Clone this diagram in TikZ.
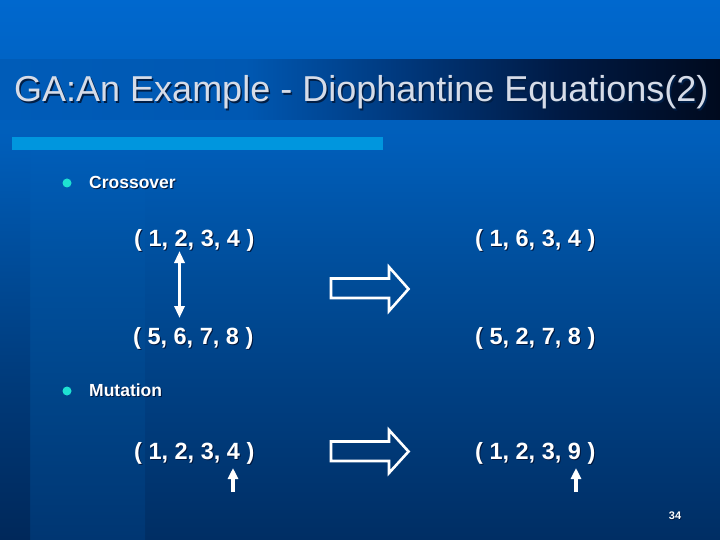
\documentclass[tikz,border=0pt]{standalone}
\usepackage{fontspec}
\setmainfont{Liberation Sans}
\usetikzlibrary{arrows.meta}
\definecolor{bgA}{RGB}{0,46,100}
\definecolor{bgB}{RGB}{0,62,128}
\definecolor{bgC}{RGB}{0,76,152}
\definecolor{bgD}{RGB}{0,94,186}
\definecolor{bgE}{RGB}{0,104,206}
\definecolor{bdA}{RGB}{0,54,114}
\definecolor{bdB}{RGB}{0,68,136}
\definecolor{bdC}{RGB}{0,79,156}
\definecolor{bkA}{RGB}{0,40,90}
\definecolor{bkB}{RGB}{0,56,118}
\definecolor{bkC}{RGB}{0,73,148}
\definecolor{tb0}{RGB}{0,92,184}
\definecolor{tb1}{RGB}{0,88,178}
\definecolor{tb2}{RGB}{0,56,124}
\definecolor{tb3}{RGB}{0,26,68}
\definecolor{tb4}{RGB}{0,10,30}
\definecolor{titlec}{RGB}{214,220,232}
\definecolor{titlesh}{RGB}{0,30,70}
\definecolor{txtsh}{RGB}{0,22,60}
\definecolor{barc}{RGB}{0,150,222}
\definecolor{dotc}{RGB}{30,225,210}
\pgfdeclareverticalshading{bgshade}{100bp}{color(0bp)=(bgA); color(25bp)=(bgA); color(38bp)=(bgB); color(49bp)=(bgC); color(62bp)=(bgD); color(75bp)=(bgE); color(100bp)=(bgE)}
\pgfdeclareverticalshading{bandshade}{100bp}{color(0bp)=(bdA); color(25bp)=(bdA); color(38bp)=(bdB); color(49bp)=(bdC); color(62bp)=(bgD); color(75bp)=(bgE); color(100bp)=(bgE)}
\pgfdeclareverticalshading{edgeshade}{100bp}{color(0bp)=(bkA); color(25bp)=(bkA); color(38bp)=(bkB); color(49bp)=(bkC); color(62bp)=(bgD); color(75bp)=(bgE); color(100bp)=(bgE)}
\pgfdeclarehorizontalshading{titleshade}{100bp}{color(0bp)=(tb0); color(25bp)=(tb0); color(42bp)=(tb1); color(53bp)=(tb2); color(64bp)=(tb3); color(75bp)=(tb4); color(100bp)=(tb4)}
\newcommand\shadowed[3]{\rlap{\hspace{#1}\raisebox{-#1}{\color{#2}#3}}#3}
\begin{document}
\begin{tikzpicture}[x=1pt,y=-1pt,
  titletext/.style={anchor=base west,inner sep=0pt,text=titlec,font=\fontsize{36}{36}\selectfont},
  headtext/.style={anchor=base west,inner sep=0pt,text=white,font=\bfseries\fontsize{17.5}{17.5}\selectfont},
  tupletext/.style={anchor=base west,inner sep=0pt,text=white,font=\bfseries\fontsize{23.5}{23.5}\selectfont},
  bulletdot/.style={circle,fill=dotc,inner sep=0pt,minimum size=9pt},
  dblarrow/.style={white,line width=3pt,{Triangle[width=10pt,length=12pt]}-{Triangle[width=10pt,length=12pt]}},
  uparrow/.style={white,line width=3.5pt,-{Triangle[width=10pt,length=11pt]}},
  blockarrow/.style={draw=white,line width=2.6pt,line join=miter}
]
\useasboundingbox (0,0) rectangle (720,540);
% background
\shade[shading=bgshade] (0,0) rectangle (720,540);
\shade[shading=bandshade] (30,0) rectangle (145,540);
\shade[shading=edgeshade] (0,0) rectangle (30,540);
% title bar
\shade[shading=titleshade] (0,60) rectangle (720,120);
\node[titletext] (title) at (14,102) {\shadowed{1.5pt}{titlesh}{GA:An Example - Diophantine Equations(2)}};
% light bar
\fill[barc] (12,137) rectangle (383,150);
% bullets
\node[bulletdot] (b1) at (67,183) {};
\node[headtext] (cross) at (89,189) {\shadowed{1pt}{txtsh}{Crossover}};
\node[bulletdot] (b2) at (67,391) {};
\node[headtext] (mut) at (89,396) {\shadowed{1pt}{txtsh}{Mutation}};
% tuples
\node[tupletext] (p1) at (134,247) {\shadowed{1pt}{txtsh}{( 1, 2, 3, 4 )}};
\node[tupletext] (c1) at (475,247) {\shadowed{1pt}{txtsh}{( 1, 6, 3, 4 )}};
\node[tupletext] (p2) at (133,344) {\shadowed{1pt}{txtsh}{( 5, 6, 7, 8 )}};
\node[tupletext] (c2) at (475,344) {\shadowed{1pt}{txtsh}{( 5, 2, 7, 8 )}};
\node[tupletext] (m1) at (134,459) {\shadowed{1pt}{txtsh}{( 1, 2, 3, 4 )}};
\node[tupletext] (m2) at (475,459) {\shadowed{1pt}{txtsh}{( 1, 2, 3, 9 )}};
% crossover double arrow
\coordinate (xa) at (179.5,251);
\coordinate (xb) at (179.5,318);
\draw[dblarrow] (xa) -- (xb);
% mutation small arrows
\coordinate (ua1) at (233,492);
\coordinate (ub1) at (233,468);
\draw[uparrow] (ua1) -- (ub1);
\coordinate (ua2) at (576,492);
\coordinate (ub2) at (576,468);
\draw[uparrow] (ua2) -- (ub2);
% block arrows
\draw[blockarrow] (331,278.5) -- (389,278.5) -- (389,267) -- (408.5,289) -- (389,311) -- (389,298) -- (331,298) -- cycle;
\draw[blockarrow] (331,441.5) -- (389,441.5) -- (389,430) -- (408.5,451.5) -- (389,473) -- (389,461) -- (331,461) -- cycle;
% page number
\node[inner sep=0pt,text=white,font=\bfseries\fontsize{11}{11}\selectfont] (pg) at (675,516) {\shadowed{0.6pt}{txtsh}{34}};
\end{tikzpicture}
\end{document}
